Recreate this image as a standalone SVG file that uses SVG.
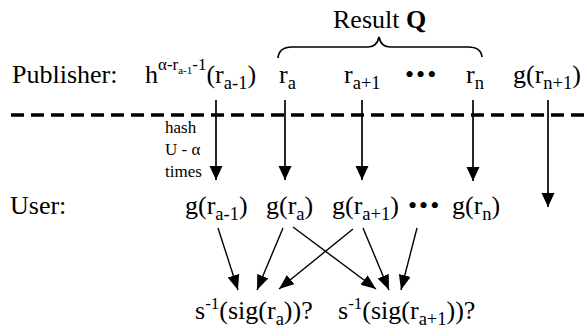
<svg xmlns="http://www.w3.org/2000/svg" width="588" height="336" viewBox="0 0 588 336">
<style>
text{font-family:"Liberation Serif","Times New Roman",serif;fill:#000;font-size:26px}
.s{font-size:18.5px}
.sup{font-size:17px}
.ss{font-size:11px}
.small{font-size:17px}
.v{stroke:#000;stroke-width:1.7;fill:none}
.d{stroke:#000;stroke-width:1.4;fill:none}
</style>
<defs>
<marker id="ab" markerUnits="userSpaceOnUse" markerWidth="15" markerHeight="14" refX="14" refY="6.5" orient="auto"><path d="M0,0 L14,6.5 L0,13 Z" fill="#000"/></marker>
<marker id="as" markerUnits="userSpaceOnUse" markerWidth="16" markerHeight="13" refX="15" refY="6" orient="auto"><path d="M0,0 L15,6 L0,12 Z" fill="#000"/></marker>
</defs>
<g id="result">
<text x="333" y="28">Result <tspan font-weight="bold">Q</tspan></text>
<path d="M278,58 Q279,47 292,47 L368,47 Q377,47 379,37 Q381,47 390,47 L468,47 Q481,47 482,57" class="v" stroke-width="1.5"/>
</g>
<g id="publisher">
<text x="12" y="83">Publisher:</text>
<text x="145" y="83">h<tspan class="sup" dy="-13">α-r</tspan><tspan class="ss" dy="4">a-1</tspan><tspan class="sup" dy="-4">-1</tspan><tspan dy="13">(r</tspan><tspan class="s" dy="6">a-1</tspan><tspan dy="-6">)</tspan></text>
<text x="279" y="83">r<tspan class="s" dy="6">a</tspan></text>
<text x="344" y="83">r<tspan class="s" dy="6">a+1</tspan></text>
<text x="405" y="83" letter-spacing="2">•••</text>
<text x="466" y="83">r<tspan class="s" dy="6">n</tspan></text>
<text x="513" y="83">g(r<tspan class="s" dy="6">n+1</tspan><tspan dy="-6">)</tspan></text>
</g>
<g id="divider">
<line x1="11" y1="115" x2="588" y2="115" stroke="#000" stroke-width="3.3" stroke-dasharray="13 7"/>
</g>
<g id="hashnote">
<text class="small" x="165" y="133">hash</text>
<text class="small" x="165" y="155">U - α</text>
<text class="small" x="165" y="177">times</text>
</g>
<g id="user">
<text x="10" y="214">User:</text>
<text x="185" y="214">g(r<tspan class="s" dy="6">a-1</tspan><tspan dy="-6">)</tspan></text>
<text x="266" y="214">g(r<tspan class="s" dy="6">a</tspan><tspan dy="-6">)</tspan></text>
<text x="332" y="214">g(r<tspan class="s" dy="6">a+1</tspan><tspan dy="-6">)</tspan></text>
<text x="408" y="214" letter-spacing="2">•••</text>
<text x="452" y="214">g(r<tspan class="s" dy="6">n</tspan><tspan dy="-6">)</tspan></text>
</g>
<g id="checks">
<text x="195" y="319">s<tspan class="sup" dy="-10">-1</tspan><tspan dy="10">(sig(r</tspan><tspan class="s" dy="6">a</tspan><tspan dy="-6">))?</tspan></text>
<text x="338" y="319">s<tspan class="sup" dy="-10">-1</tspan><tspan dy="10">(sig(r</tspan><tspan class="s" dy="6">a+1</tspan><tspan dy="-6">))?</tspan></text>
</g>
<g id="connectors">
<line class="v" x1="216" y1="100" x2="216" y2="180" marker-end="url(#ab)"/>
<line class="v" x1="285" y1="100" x2="285" y2="180" marker-end="url(#ab)"/>
<line class="v" x1="362" y1="100" x2="362" y2="180" marker-end="url(#ab)"/>
<line class="v" x1="473" y1="100" x2="473" y2="181" marker-end="url(#ab)"/>
<line class="v" x1="548" y1="100" x2="548" y2="207" marker-end="url(#ab)"/>
<line class="d" x1="218" y1="228" x2="238" y2="290" marker-end="url(#as)"/>
<line class="d" x1="283" y1="228" x2="257" y2="290" marker-end="url(#as)"/>
<line class="d" x1="293" y1="227" x2="376" y2="289" marker-end="url(#as)"/>
<line class="d" x1="353" y1="229" x2="279" y2="289" marker-end="url(#as)"/>
<line class="d" x1="363" y1="228" x2="389" y2="290" marker-end="url(#as)"/>
<line class="d" x1="417" y1="228" x2="401" y2="290" marker-end="url(#as)"/>
</g>
</svg>
